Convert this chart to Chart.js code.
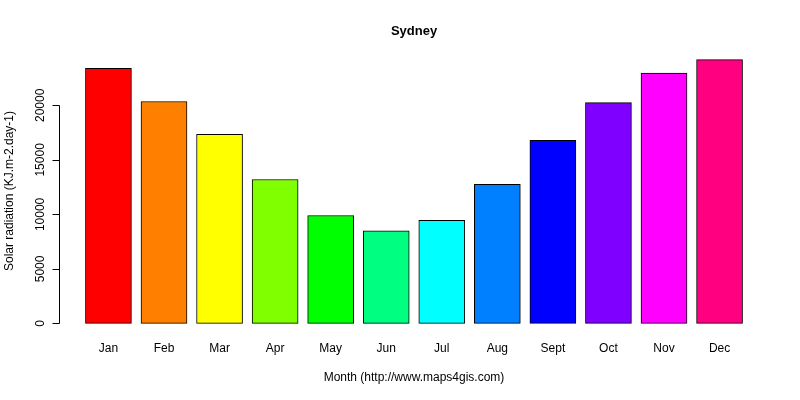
<!DOCTYPE html>
<html>
<head>
<script src="https://cdn.jsdelivr.net/npm/chart.js@4"></script>
<style>body{margin:0;background:#fff}#wrap{width:800px;height:400px}</style>
</head>
<body>
<div id="wrap"><canvas id="c"></canvas></div>
<script>
const months = ["Jan","Feb","Mar","Apr","May","Jun","Jul","Aug","Sept","Oct","Nov","Dec"];
const radiation = [23400,20350,17350,13200,9900,8500,9450,12750,16800,20250,22950,24200];
const colors = ["#FF0000","#FF8000","#FFFF00","#80FF00","#00FF00","#00FF80","#00FFFF","#0080FF","#0000FF","#8000FF","#FF00FF","#FF0080"];
const yTicks = [0,5000,10000,15000,20000];

// R barplot places bar i centered at 0.7 + 1.2*i
const centers = months.map((m, i) => 0.7 + 1.2 * i);
const FONT = "12px 'Liberation Sans', Arial, sans-serif";

const axesPlugin = {
	id: "rAxes",
	afterDraw(chart){
		const ctx = chart.ctx, x = chart.scales.x, y = chart.scales.y;
		const left = chart.chartArea.left;
		ctx.save();
		ctx.strokeStyle = "#000";
		ctx.fillStyle = "#000";
		ctx.lineWidth = 1;
		// y axis
		ctx.beginPath();
		ctx.moveTo(left + 0.5, Math.round(y.getPixelForValue(0)) + 0.5);
		ctx.lineTo(left + 0.5, Math.round(y.getPixelForValue(20000)) + 0.5);
		yTicks.forEach(v => {
			const py = Math.round(y.getPixelForValue(v)) + 0.5;
			ctx.moveTo(left + 0.5, py);
			ctx.lineTo(left - 6.5, py);
		});
		ctx.stroke();
		ctx.font = FONT;
		ctx.textAlign = "center";
		ctx.textBaseline = "bottom";
		yTicks.forEach(v => {
			ctx.save();
			ctx.translate(left - 17, y.getPixelForValue(v));
			ctx.rotate(-Math.PI / 2);
			ctx.fillText(String(v), 0, 5);
			ctx.restore();
		});
		// month labels
		ctx.textBaseline = "middle";
		months.forEach((m, i) => ctx.fillText(m, x.getPixelForValue(centers[i]), 349));
		// titles
		ctx.fillText("Month (http://www.maps4gis.com)", 414, 378);
		ctx.save();
		ctx.translate(10, 191);
		ctx.rotate(-Math.PI / 2);
		ctx.fillText("Solar radiation (KJ.m-2.day-1)", 0, 0);
		ctx.restore();
		ctx.font = "bold 13px 'Liberation Sans', Arial, sans-serif";
		ctx.fillText("Sydney", 414, 31);
		ctx.restore();
	}
};

new Chart(document.getElementById("c"), {
	type: "bar",
	data: {
		datasets: [{
			data: months.map((m, i) => ({x: centers[i], y: radiation[i]})),
			backgroundColor: colors,
			borderColor: "#000",
			borderWidth: 1,
			borderSkipped: false,
			barThickness: 46
		}]
	},
	options: {
		responsive: true,
		maintainAspectRatio: false,
		animation: false,
		layout: {padding: {left: 59, right: 31, top: 49, bottom: 66}},
		plugins: {legend: {display: false}, tooltip: {enabled: false}},
		scales: {
			x: {type: "linear", min: -0.368, max: 14.968, offset: false, display: false},
			y: {min: -968, max: 25168, display: false}
		}
	},
	plugins: [axesPlugin]
});
</script>
</body>
</html>
